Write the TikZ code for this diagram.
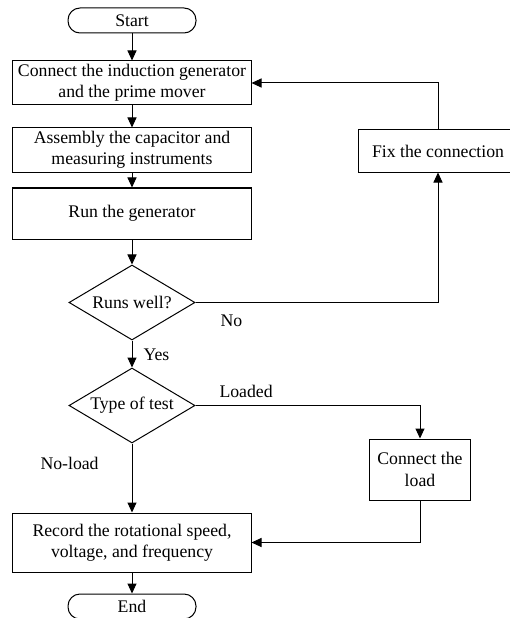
\documentclass[tikz,border=0pt]{standalone}
\usepackage{fontspec}
\setmainfont{Liberation Serif}
\usetikzlibrary{arrows.meta,shapes.geometric,positioning}

\begin{document}
\begin{tikzpicture}[x=1bp,y=1bp,line width=1bp,
    font=\fontsize{17.8}{21.5}\selectfont,
    box/.style={draw,rectangle,align=center,inner sep=2bp},
    term/.style={draw,rectangle,rounded corners=12bp,minimum width=128bp,minimum height=25bp,inner sep=0pt},
    decide/.style={draw,diamond,aspect=1.68,minimum width=126bp,minimum height=75bp,inner sep=0pt},
    arr/.style={-{Triangle[length=10bp,width=9bp]}},
    lbl/.style={anchor=west,inner sep=0pt}]
            \useasboundingbox (0,0) rectangle (510,-618);
            % main column
            \node[term] (start) at (132,-20.5) {Start};
            \node[box,minimum width=238bp,minimum height=44bp] (conn) at (132,-83) {Connect the induction generator\\and the prime mover};
            \node[box,minimum width=238bp,minimum height=44bp] (assem) at (132,-150) {Assembly the capacitor and\\measuring instruments};
            \node[box,minimum width=238bp,minimum height=51bp] (run) at (132,-213.5) {Run the generator};
            \node[decide] (runs) at (132,-302.5) {Runs well?};
            \node[decide] (type) at (132,-405.5) {Type of test};
            \node[box,minimum width=238bp,minimum height=59bp] (rec) at (132,-542.5) {Record the rotational speed,\\voltage, and frequency};
            \node[term] (end) at (132,-606.5) {End};
            % side boxes
            \node[box,minimum width=160bp,minimum height=42bp] (fix) at (438,-151) {Fix the connection};
            \node[box,minimum width=101bp,minimum height=61bp] (load) at (420,-469.5) {Connect the\\load};
            % labels
            \node[lbl] (yes) at (143,-355) {Yes};
            \node[lbl] (no) at (220,-321) {No};
            \node[lbl] (loaded) at (219,-391) {Loaded};
            \node[lbl] (noload) at (40,-463) {No-load};
            % connectors
            \draw[arr] (start) -- (conn);
            \draw[arr] (conn) -- (assem);
            \draw[arr] (assem) -- (run);
            \draw[arr] (run) -- (runs);
            \draw[arr] (runs) -- (type);
            \draw[arr] (runs.east) -| (fix.south);
            \draw[arr] (fix.north) |- (conn.east);
            \draw[arr] (type.east) -| (load.north);
            \draw[arr] (type) -- (rec);
            \draw[arr] (load.south) |- (rec.east);
            \draw[arr] (rec) -- (end);
        \end{tikzpicture}
\end{document}
